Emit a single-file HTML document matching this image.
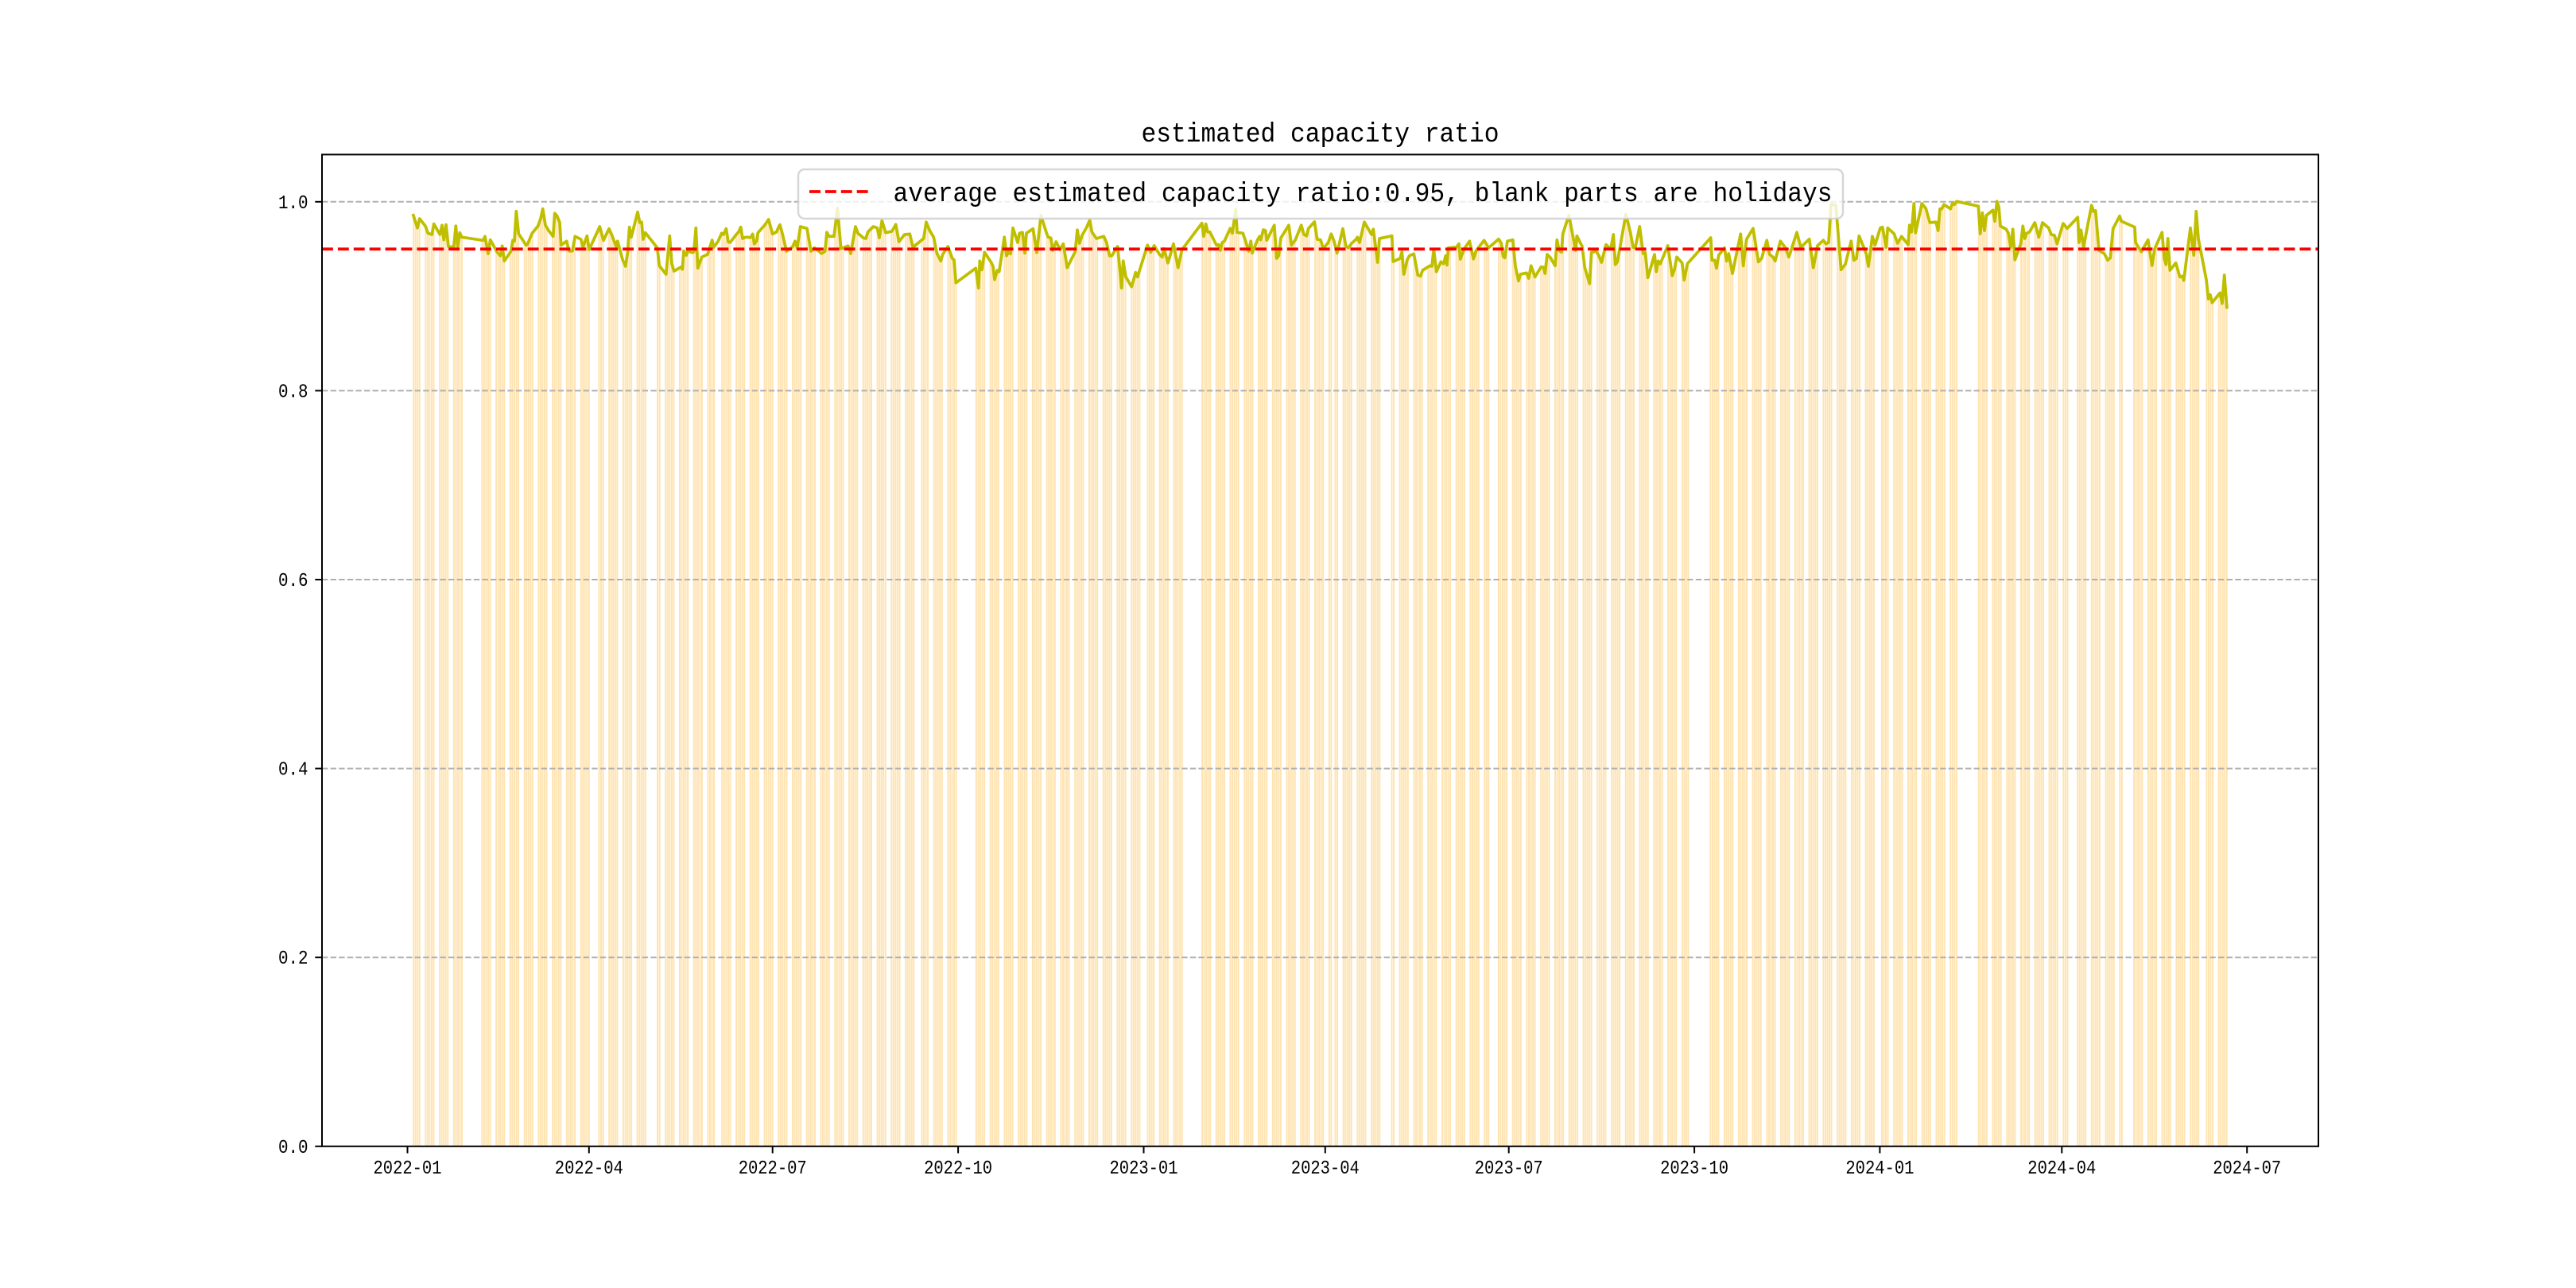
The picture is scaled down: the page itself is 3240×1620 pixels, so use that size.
<!DOCTYPE html>
<html>
<head>
<meta charset="utf-8">
<style>
html,body{margin:0;padding:0;background:#fff;}
svg{display:block;}
text{font-family:"Liberation Mono","Noto Sans CJK SC",monospace;fill:#000;}
</style>
</head>
<body>
<svg id="chart" xmlns="http://www.w3.org/2000/svg" width="3240" height="1620" viewBox="0 0 3240 1620">
<rect x="0" y="0" width="3240" height="1620" fill="#fff"/>
<path id="bars" d="" fill="#ffe4b3" stroke="none"/>
<g stroke="#b0b0b0" stroke-width="2" stroke-dasharray="7.4 3.2" fill="none">
<line x1="405" y1="1204.2" x2="2916" y2="1204.2"/>
<line x1="405" y1="966.6" x2="2916" y2="966.6"/>
<line x1="405" y1="729" x2="2916" y2="729"/>
<line x1="405" y1="491.4" x2="2916" y2="491.4"/>
<line x1="405" y1="253.8" x2="2916" y2="253.8"/>
</g>
<polyline id="series" fill="none" stroke="#bfbf00" stroke-width="3.75" stroke-linejoin="round" stroke-linecap="butt" points="519.3,269 525,286.7 527.7,275 535,284.3 538.3,293.3 543.3,295 545.7,281.7 553.3,295 556,283.3 558.3,301.7 561,282.7 564,310 570.7,310.7 573.3,284.3 575.7,310 578.3,292.7 580.7,298.3 607.7,302.3 610,297.3 614,319 616.7,301.7 625,316.7 629.3,321.7 631.7,309.3 634.3,328.3 642.7,316 645,302.3 647,303.3 649.3,265.7 652.3,294 661.7,308.3 663.3,307.7 669.3,293.3 676.7,284.3 680,275 682.7,262.7 686,283.3 690,290 695.7,297.3 697.7,268.3 700.7,271.7 704,280 705.7,308.3 712.7,303.3 715.7,315.7 720,315.7 723.3,297.3 730.7,301 733.3,310.7 738.3,296.7 741,314 746.7,301.7 754.3,285 759,302.3 766,287.7 769.3,295 775,310 776.7,303.3 783.3,327.3 786.7,335 789.3,318.3 791.7,285.7 794,298.3 802,266.7 804.7,280 807,279.3 809,301 811.7,292.7 826.7,311.7 829.3,334.3 837.7,345 842.3,296.7 845,331.7 847.7,341 856.7,335.7 858.3,338.7 860,315.7 863.3,321 865,315.7 871,317.7 872.7,316.7 875.3,286.7 877.7,337.3 882.7,323.3 890,320 895.7,302 897.7,311 903.3,303.3 907.7,293.3 910,295 913.3,287.7 916,304.3 918.3,305 926,295 929,291.7 931.7,285.7 934,300 937.7,298.3 944,298.7 946.7,294.3 948.7,306.7 951.7,303.3 953.3,292.7 961.7,283.3 966.7,276 971.7,294.3 976.7,291.7 980,284.3 981,282.7 984.3,295 989.3,316 996.7,310.7 1000,303.3 1002.7,311.7 1006.7,285 1015,287.3 1020,316 1024.3,311.7 1030,316 1033.3,319 1037.7,316 1040,292.3 1042.7,297.3 1049,297.3 1053.3,261.7 1057.7,312.7 1066.7,309.3 1070,319 1076,285 1079,293.3 1086,299.3 1089,300 1091.7,291.7 1098.3,285 1103.3,286.7 1106,299 1109.3,277.7 1114,292.7 1121.7,291 1126.7,282.3 1130.7,304 1137.7,295 1144.3,294.3 1148.3,311 1161.7,300 1165,279.3 1169.3,290 1174.3,298.3 1178.3,318.3 1183.3,328.3 1185.7,320 1192.3,310 1197.7,325 1200,326.7 1202.3,355.7 1227.3,337.3 1230.7,362.3 1232.3,328.3 1235,339.3 1238.3,317.3 1246.7,330 1249,335 1251,351.7 1254.3,340 1256.7,341.7 1263.3,298.3 1266,321.7 1268.3,316.7 1271,319.3 1274,286.7 1280,305 1282.3,293.3 1286,292.3 1289,318.3 1291,293.3 1299.3,287.7 1304,317.7 1309.3,271 1316,292.3 1318.3,298.3 1321.7,299.3 1324,315 1328.3,304 1333.3,314 1337.3,306.7 1342.3,336.7 1352.3,316.7 1355,289.3 1357.7,306 1361,296 1366.7,286 1370.7,276.7 1373.3,291.7 1379,300 1388.3,297.3 1391.7,305 1395.7,321.7 1398.3,321.7 1405.7,310 1408.3,336.7 1410.7,362.3 1412.7,328.3 1416,348.3 1423.3,360.7 1428.3,342.7 1430.7,348.3 1443.3,308.3 1447.3,317.3 1451.7,309 1458.3,320 1461.7,323.3 1464,312.7 1469,330.7 1476,306.7 1481.7,336.7 1486.7,314 1511.7,280.7 1514,297.3 1516.7,281.7 1519,291.7 1521.7,291.7 1530,308.3 1532.7,307.7 1535,315 1537.3,305 1540,303.3 1547.3,287.3 1550,293.3 1554.3,263.3 1556,292.3 1563.3,293.3 1570.7,316 1573.3,303.3 1575,318.3 1581.7,301.7 1584.3,297.3 1585.7,301.7 1589,289 1591.7,290 1593.3,302.3 1602.7,283.3 1605.7,325 1608.3,321.7 1611,299.3 1621,283.3 1624.3,308.3 1629.3,301.7 1636.7,283.3 1640,295 1643.3,296.7 1645.7,287.3 1653.3,279 1656.7,301 1661,301.7 1664.3,312.7 1670.7,305 1674.3,294.3 1677.7,302.7 1681.7,318.3 1689,287.7 1692.7,309.3 1696,311.7 1700,306 1705,301.7 1707.3,298.3 1710,305 1716,279.3 1725,295 1727.3,288.3 1732.7,330 1735,300 1750.7,296.7 1752.3,329 1761,325 1763.3,316.7 1765.7,345 1770,326.7 1772.7,321.7 1778.3,319.3 1783.3,346 1786.7,347.3 1789.3,340 1798.3,334.3 1801,335 1803.3,313.3 1806.7,341.7 1812.3,329.3 1815.7,331.7 1818.3,321.7 1820,333.3 1821.7,311.7 1831.7,311 1835,306.7 1836.7,326 1841.7,312.7 1848.3,303.3 1853.3,325.7 1856.7,315 1866.7,302.3 1872.3,311.7 1885,300.7 1888.3,306 1890.7,322.7 1892.7,324.3 1896,303.3 1902.7,301.7 1906,335 1910,353.3 1912.3,345 1920,343.3 1922.7,350 1925.7,334.3 1930.7,348.3 1938.3,335.7 1941,336 1943.3,344 1946,320 1950,324 1956,334.3 1958.3,301.7 1961,315 1964,317.3 1965.7,294 1973.3,270.7 1976.7,288.3 1981.7,315 1983.3,296.7 1990,310 1993.3,336.7 1999.3,356.7 2001.7,317.3 2007.7,316 2011,321.7 2014.3,330 2020,307.7 2026,313.3 2029.3,295 2031.7,332.7 2034.3,329.3 2045,269.3 2050.7,292.7 2054,311 2056.7,311.7 2062.3,285 2066.7,319 2069.3,317.3 2072.7,349.3 2081,320 2083.3,341.7 2085.7,328.3 2088.3,331.7 2097.7,309 2103.3,346.7 2106,339.3 2109,323.3 2115.7,330.7 2118.3,352.3 2122.3,331.7 2151.7,299 2153.3,327.3 2156.7,327.3 2159,337.3 2161.7,321 2169,311.7 2171.7,328.3 2174.3,319 2179,344 2189.3,294.3 2192.7,334.3 2196.7,301 2205,287.3 2211.7,329.3 2215.7,325 2222.3,302.3 2225.7,320 2230,323.3 2232.7,328.3 2239.3,303.3 2245.7,311.7 2250,323.3 2260,292.3 2265,311 2275.7,300.7 2280.7,336.7 2286,309 2293.3,302.3 2296.7,306.7 2300,305 2303,257 2309,258 2315.7,339.3 2321,332.3 2328.3,303.3 2331.7,327.3 2335,325 2338.3,296.7 2347.3,319 2350,335 2355,297.3 2358.3,308.3 2365,286.7 2367.7,285.7 2372.3,311 2374.3,286.7 2382.3,294 2386.7,306 2391.7,297.3 2400,307.7 2401.7,283.3 2404.3,291.7 2407.3,256 2409.3,292.7 2417.3,256 2422.3,262.3 2427.3,280 2435,279.3 2437.7,290 2440,262.7 2442.3,262.7 2445,257.3 2453.3,262.7 2455.7,255.7 2458.3,257.3 2461,253.3 2488.3,259.3 2490.7,294 2493.3,267.7 2496,290 2498.3,271 2506.7,264.3 2509,278.3 2511.7,253.3 2514,260 2516,284.3 2523.3,288.3 2526,293.3 2529,311 2531.7,288.3 2534.3,326.7 2541.7,306.7 2544.3,284.3 2546.7,300 2549,293.3 2552.7,291.7 2559.3,280 2564.3,298.3 2569,280 2576.7,286.7 2580,295 2584,296 2587.3,306.7 2595,281 2600,287.3 2613.3,273.3 2615,305 2617.3,289.3 2620.7,310 2630.7,258.3 2633.3,266 2635.7,265 2640,315 2646.7,319 2651,327.3 2654.3,324.3 2657.7,287.7 2666,271.7 2668.3,278.3 2685,285.7 2686,305 2693.3,316.7 2701.7,301.7 2706.7,334 2710,313.3 2719.3,292.3 2722.3,326 2724.3,332.7 2726.7,300 2729.3,340 2736.7,330.7 2741.7,348.3 2745,347.3 2746.7,352.7 2755,286.7 2759.3,321 2762.3,265.7 2765,300 2775,351.7 2777.7,376 2780,370.7 2782.3,380.7 2792.3,368.3 2795,381.7 2797.7,346 2801,388.3"/>
<line x1="405" y1="313.2" x2="2916" y2="313.2" stroke="#ff0000" stroke-width="3.75" stroke-dasharray="13.9 6"/>
<!-- axes frame -->
<rect x="405" y="194.4" width="2511" height="1247.4" fill="none" stroke="#000" stroke-width="2"/>
<!-- y ticks -->
<g stroke="#000" stroke-width="2">
<line x1="396.3" y1="1441.8" x2="405" y2="1441.8"/>
<line x1="396.3" y1="1204.2" x2="405" y2="1204.2"/>
<line x1="396.3" y1="966.6" x2="405" y2="966.6"/>
<line x1="396.3" y1="729" x2="405" y2="729"/>
<line x1="396.3" y1="491.4" x2="405" y2="491.4"/>
<line x1="396.3" y1="253.8" x2="405" y2="253.8"/>
</g>
<g font-size="24" text-anchor="end">
<text x="387.5" y="1449.8" textLength="37.5" lengthAdjust="spacingAndGlyphs">0.0</text>
<text x="387.5" y="1212.2" textLength="37.5" lengthAdjust="spacingAndGlyphs">0.2</text>
<text x="387.5" y="974.6" textLength="37.5" lengthAdjust="spacingAndGlyphs">0.4</text>
<text x="387.5" y="737" textLength="37.5" lengthAdjust="spacingAndGlyphs">0.6</text>
<text x="387.5" y="499.4" textLength="37.5" lengthAdjust="spacingAndGlyphs">0.8</text>
<text x="387.5" y="261.8" textLength="37.5" lengthAdjust="spacingAndGlyphs">1.0</text>
</g>
<!-- x ticks -->
<g stroke="#000" stroke-width="2">
<line x1="512.5" y1="1441.8" x2="512.5" y2="1450.5"/>
<line x1="740.8" y1="1441.8" x2="740.8" y2="1450.5"/>
<line x1="971.7" y1="1441.8" x2="971.7" y2="1450.5"/>
<line x1="1205.1" y1="1441.8" x2="1205.1" y2="1450.5"/>
<line x1="1438.5" y1="1441.8" x2="1438.5" y2="1450.5"/>
<line x1="1666.8" y1="1441.8" x2="1666.8" y2="1450.5"/>
<line x1="1897.7" y1="1441.8" x2="1897.7" y2="1450.5"/>
<line x1="2131.1" y1="1441.8" x2="2131.1" y2="1450.5"/>
<line x1="2364.4" y1="1441.8" x2="2364.4" y2="1450.5"/>
<line x1="2593.3" y1="1441.8" x2="2593.3" y2="1450.5"/>
<line x1="2826.2" y1="1441.8" x2="2826.2" y2="1450.5"/>
</g>
<g font-size="24" text-anchor="middle">
<text x="512.5" y="1476" textLength="86" lengthAdjust="spacingAndGlyphs">2022-01</text>
<text x="740.8" y="1476" textLength="86" lengthAdjust="spacingAndGlyphs">2022-04</text>
<text x="971.7" y="1476" textLength="86" lengthAdjust="spacingAndGlyphs">2022-07</text>
<text x="1205.1" y="1476" textLength="86" lengthAdjust="spacingAndGlyphs">2022-10</text>
<text x="1438.5" y="1476" textLength="86" lengthAdjust="spacingAndGlyphs">2023-01</text>
<text x="1666.8" y="1476" textLength="86" lengthAdjust="spacingAndGlyphs">2023-04</text>
<text x="1897.7" y="1476" textLength="86" lengthAdjust="spacingAndGlyphs">2023-07</text>
<text x="2131.1" y="1476" textLength="86" lengthAdjust="spacingAndGlyphs">2023-10</text>
<text x="2364.4" y="1476" textLength="86" lengthAdjust="spacingAndGlyphs">2024-01</text>
<text x="2593.3" y="1476" textLength="86" lengthAdjust="spacingAndGlyphs">2024-04</text>
<text x="2826.2" y="1476" textLength="86" lengthAdjust="spacingAndGlyphs">2024-07</text>
</g>
<!-- title -->
<text x="1660.5" y="178" font-size="34" text-anchor="middle" textLength="450" lengthAdjust="spacingAndGlyphs">estimated capacity ratio</text>
<!-- legend -->
<rect x="1004" y="213" width="1314" height="62" rx="8" ry="8" fill="#ffffff" fill-opacity="0.8" stroke="#cccccc" stroke-opacity="0.8" stroke-width="2.5"/>
<line x1="1018" y1="241" x2="1093" y2="241" stroke="#ff0000" stroke-width="3.75" stroke-dasharray="13.9 6"/>
<text x="1123.5" y="253" font-size="34" textLength="1181" lengthAdjust="spacingAndGlyphs">average estimated capacity ratio:0.95, blank parts are holidays</text>
</svg>
<script>
(function(){
  var pl = document.getElementById('series').getAttribute('points').trim().split(/\s+/).map(function(s){var a=s.split(',');return [parseFloat(a[0]),parseFloat(a[1])];});
  function interp(x){
    if(x<=pl[0][0]) return pl[0][1];
    for(var i=1;i<pl.length;i++){
      if(x<=pl[i][0]){
        var a=pl[i-1],b=pl[i];
        var t=(b[0]-a[0])===0?0:(x-a[0])/(b[0]-a[0]);
        return a[1]+t*(b[1]-a[1]);
      }
    }
    return pl[pl.length-1][1];
  }
  var hol = ["2022-01-03","2022-01-31","2022-02-01","2022-02-02","2022-02-03","2022-02-04","2022-04-04","2022-04-05","2022-05-02","2022-05-03","2022-05-04","2022-06-03","2022-09-12","2022-10-03","2022-10-04","2022-10-05","2022-10-06","2022-10-07",
    "2023-01-02","2023-01-23","2023-01-24","2023-01-25","2023-01-26","2023-01-27","2023-04-05","2023-05-01","2023-05-02","2023-05-03","2023-06-22","2023-06-23","2023-09-29","2023-10-02","2023-10-03","2023-10-04","2023-10-05","2023-10-06",
    "2024-01-01","2024-02-09","2024-02-12","2024-02-13","2024-02-14","2024-02-15","2024-02-16","2024-04-04","2024-04-05","2024-05-01","2024-05-02","2024-05-03","2024-06-10"];
  var hs = {}; hol.forEach(function(h){hs[h]=1;});
  var ppd = 2.5369, x0 = 512.5, base = 1441.8, w = 0.8*ppd;
  var d = "";
  for(var k=3;k<=902;k++){
    var dt = new Date(Date.UTC(2022,0,1+k));
    var dow = dt.getUTCDay();
    if(dow===0||dow===6) continue;
    var key = dt.toISOString().slice(0,10);
    if(hs[key]) continue;
    var xc = x0 + k*ppd;
    var y = interp(xc);
    var xl = xc - 0.4*ppd;
    d += "M"+xl.toFixed(2)+" "+y.toFixed(2)+"h"+w.toFixed(3)+"V"+base+"h"+(-w).toFixed(3)+"Z";
  }
  document.getElementById('bars').setAttribute('d', d);
})();
</script>
</body>
</html>
